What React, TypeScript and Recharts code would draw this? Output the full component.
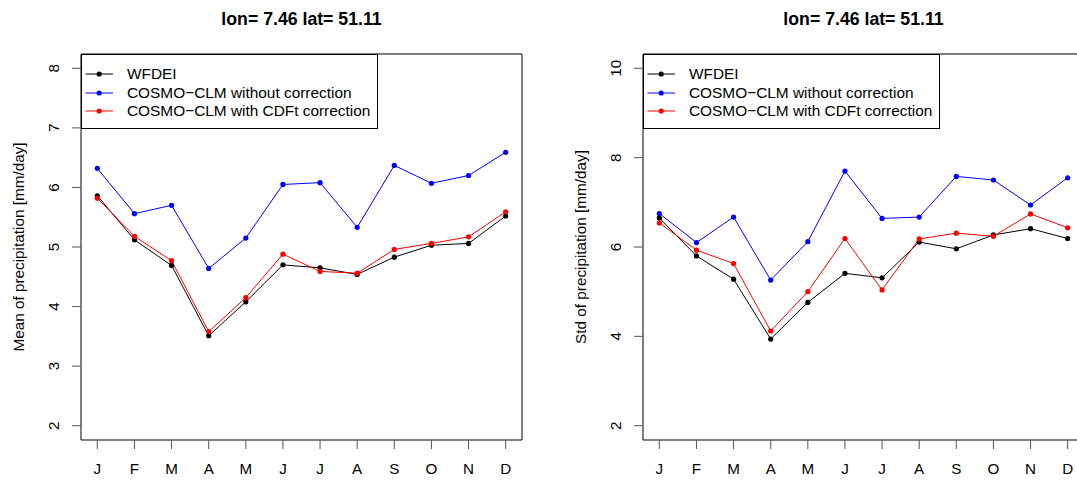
import React from 'react';
import { LineChart, Line, XAxis, YAxis, ReferenceArea } from 'recharts';

const months = ['J', 'F', 'M', 'A', 'M', 'J', 'J', 'A', 'S', 'O', 'N', 'D'];

const meanWFDEI = [5.86, 5.12, 4.69, 3.51, 4.08, 4.70, 4.65, 4.54, 4.83, 5.03, 5.06, 5.52];
const meanRaw = [6.32, 5.56, 5.70, 4.64, 5.15, 6.05, 6.08, 5.33, 6.37, 6.07, 6.20, 6.59];
const meanCDFt = [5.82, 5.18, 4.77, 3.58, 4.15, 4.88, 4.59, 4.56, 4.96, 5.06, 5.17, 5.59];

const stdWFDEI = [6.65, 5.80, 5.28, 3.94, 4.76, 5.41, 5.31, 6.11, 5.96, 6.27, 6.41, 6.19];
const stdRaw = [6.75, 6.10, 6.67, 5.26, 6.12, 7.70, 6.64, 6.67, 7.58, 7.50, 6.94, 7.55];
const stdCDFt = [6.54, 5.93, 5.63, 4.12, 5.00, 6.19, 5.04, 6.18, 6.31, 6.24, 6.74, 6.43];

const meanTicks = [2, 3, 4, 5, 6, 7, 8];
const stdTicks = [2, 4, 6, 8, 10];
const meanDomain: [number, number] = [1.76, 8.24];
const stdDomain: [number, number] = [1.68, 10.32];
const xTicks = [1, 2, 3, 4, 5, 6, 7, 8, 9, 10, 11, 12];
const xDomain: [number, number] = [0.56, 12.44];

const titleText = 'lon= 7.46 lat= 51.11';
const seriesKeys = ['wfdei', 'raw', 'cdft'];
const seriesNames = ['WFDEI', 'COSMO\u2212CLM without correction', 'COSMO\u2212CLM with CDFt correction'];
const seriesColors = ['#000000', '#0000ff', '#ff0000'];

const FONT = '"Liberation Sans", Arial, Helvetica, sans-serif';

function buildData(a: number[], b: number[], c: number[]) {
  return months.map((m, i) => ({ x: i + 1, label: m, wfdei: a[i], raw: b[i], cdft: c[i] }));
}

const renderXTick = (props: any) => {
  const { x, y, payload } = props;
  return (
    <text x={x} y={y} textAnchor="middle" fontFamily={FONT} fontSize={15.2} fill="#000">
      {months[payload.value - 1]}
    </text>
  );
};

const renderYTick = (props: any) => {
  const { x, y, payload } = props;
  return (
    <text
      x={x}
      y={y}
      transform={`rotate(-90, ${x}, ${y})`}
      textAnchor="middle"
      fontFamily={FONT}
      fontSize={15.2}
      fill="#000"
    >
      {payload.value}
    </text>
  );
};

const W = 540;
const H = 480;
const PLOT_LEFT = 81;
const PLOT_TOP = 54;
const PLOT_BOTTOM = 40;
const M = { top: PLOT_TOP, right: 18, bottom: 0, left: 0 };

function Legend() {
  const rows = [19, 37.7, 56.4];
  return (
    <div
      style={{
        position: 'absolute',
        left: PLOT_LEFT,
        top: PLOT_TOP,
        width: 297,
        height: 75,
        boxSizing: 'border-box',
        border: '1px solid #000',
        background: '#fff',
        fontFamily: FONT,
        fontSize: 15.4,
      }}
    >
      {seriesNames.map((name, i) => (
        <div key={name} style={{ position: 'absolute', left: 0, top: rows[i] - 10, height: 20, width: 295 }}>
          <svg width={40} height={20} style={{ position: 'absolute', left: 0, top: 0 }}>
            <line x1={3.5} x2={31} y1={10} y2={10} stroke={seriesColors[i]} strokeWidth={1} />
            <circle cx={17.2} cy={10} r={2.6} fill={seriesColors[i]} />
          </svg>
          <span style={{ position: 'absolute', left: 45, top: 0, lineHeight: '20px', whiteSpace: 'nowrap', color: '#000' }}>
            {name}
          </span>
        </div>
      ))}
    </div>
  );
}

function Panel(props: {
  left: number;
  data: any[];
  yDomain: [number, number];
  yTicks: number[];
  yLabel: string;
}) {
  const { left, data, yDomain, yTicks, yLabel } = props;
  const plotH = H - PLOT_TOP - PLOT_BOTTOM;
  return (
    <div style={{ position: 'absolute', left, top: 0, width: W, height: H }}>
      <LineChart width={W} height={H} data={data} margin={M}>
        <XAxis
          dataKey="x"
          type="number"
          domain={xDomain}
          ticks={xTicks}
          allowDataOverflow
          height={PLOT_BOTTOM}
          axisLine={false}
          tickSize={9}
          tickMargin={25}
          tickLine={{ stroke: '#555', strokeWidth: 1 }}
          tick={renderXTick}
          interval={0}
        />
        <YAxis
          type="number"
          domain={yDomain}
          ticks={yTicks}
          allowDataOverflow
          width={PLOT_LEFT}
          axisLine={false}
          tickSize={9}
          tickMargin={13}
          tickLine={{ stroke: '#555', strokeWidth: 1 }}
          tick={renderYTick}
          interval={0}
        />
        <ReferenceArea
          x1={xDomain[0]}
          x2={xDomain[1]}
          y1={yDomain[0]}
          y2={yDomain[1]}
          fill="none"
          fillOpacity={0}
          stroke="#000"
          strokeWidth={1}
          ifOverflow="visible"
        />
        {seriesKeys.map((k, i) => (
          <Line
            key={k}
            dataKey={k}
            stroke={seriesColors[i]}
            strokeWidth={1}
            dot={{ r: 2.6, fill: seriesColors[i], stroke: 'none' }}
            activeDot={false}
            isAnimationActive={false}
            type="linear"
          />
        ))}
      </LineChart>
      <div
        style={{
          position: 'absolute',
          left: PLOT_LEFT,
          width: W - PLOT_LEFT - M.right,
          top: 9,
          textAlign: 'center',
          fontFamily: FONT,
          fontWeight: 'bold',
          fontSize: 17.7,
          lineHeight: '20px',
          color: '#000',
        }}
      >
        {titleText}
      </div>
      <svg width={60} height={H} style={{ position: 'absolute', left: 0, top: 0, pointerEvents: 'none' }}>
        <text
          x={PLOT_LEFT - 57}
          y={PLOT_TOP + plotH / 2}
          transform={`rotate(-90, ${PLOT_LEFT - 57}, ${PLOT_TOP + plotH / 2})`}
          textAnchor="middle"
          fontFamily={FONT}
          fontSize={15.3}
          fill="#000"
        >
          {yLabel}
        </text>
      </svg>
      <Legend />
    </div>
  );
}

export default function App() {
  const meanData = buildData(meanWFDEI, meanRaw, meanCDFt);
  const stdData = buildData(stdWFDEI, stdRaw, stdCDFt);
  return (
    <div
      style={{
        position: 'absolute',
        left: 0,
        top: 0,
        width: 1077,
        height: 480,
        overflow: 'hidden',
        background: '#fff',
      }}
    >
      <Panel left={0} data={meanData} yDomain={meanDomain} yTicks={meanTicks} yLabel="Mean of precipitation [mm/day]" />
      <Panel left={562} data={stdData} yDomain={stdDomain} yTicks={stdTicks} yLabel="Std of precipitation [mm/day]" />
    </div>
  );
}
